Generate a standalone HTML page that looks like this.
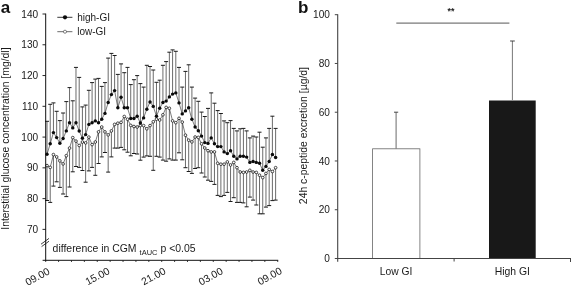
<!DOCTYPE html>
<html><head><meta charset="utf-8"><title>Figure</title>
<style>html,body{margin:0;padding:0;background:#fff}body{width:571px;height:289px;overflow:hidden}</style>
</head><body>
<svg width="571" height="289" viewBox="0 0 571 289" style="display:block;will-change:transform;font-family:'Liberation Sans',sans-serif">
<rect width="571" height="289" fill="#fff"/>
<text x="0.8" y="12.6" font-size="17"font-weight="bold" fill="#111">a</text>
<text transform="translate(8.6,138.6) rotate(-90)" text-anchor="middle" font-size="10.39"fill="#1a1a1a">Interstitial glucose concentration [mg/dl]</text>
<line x1="47.00" y1="154.3" x2="47.00" y2="121.3" stroke="#5a5a5a" stroke-width="0.9"/>
<line x1="45.00" y1="121.3" x2="49.00" y2="121.3" stroke="#1a1a1a" stroke-width="1.0"/>
<line x1="47.00" y1="165.6" x2="47.00" y2="200.5" stroke="#5a5a5a" stroke-width="0.9"/>
<line x1="45.00" y1="200.5" x2="49.00" y2="200.5" stroke="#1a1a1a" stroke-width="1.0"/>
<line x1="50.22" y1="143.8" x2="50.22" y2="104.3" stroke="#5a5a5a" stroke-width="0.9"/>
<line x1="48.22" y1="104.3" x2="52.22" y2="104.3" stroke="#1a1a1a" stroke-width="1.0"/>
<line x1="50.22" y1="167.4" x2="50.22" y2="202.4" stroke="#5a5a5a" stroke-width="0.9"/>
<line x1="48.22" y1="202.4" x2="52.22" y2="202.4" stroke="#1a1a1a" stroke-width="1.0"/>
<line x1="53.44" y1="132.6" x2="53.44" y2="102.9" stroke="#5a5a5a" stroke-width="0.9"/>
<line x1="51.44" y1="102.9" x2="55.44" y2="102.9" stroke="#1a1a1a" stroke-width="1.0"/>
<line x1="53.44" y1="154.6" x2="53.44" y2="186.1" stroke="#5a5a5a" stroke-width="0.9"/>
<line x1="51.44" y1="186.1" x2="55.44" y2="186.1" stroke="#1a1a1a" stroke-width="1.0"/>
<line x1="56.66" y1="137.6" x2="56.66" y2="111.3" stroke="#5a5a5a" stroke-width="0.9"/>
<line x1="54.66" y1="111.3" x2="58.66" y2="111.3" stroke="#1a1a1a" stroke-width="1.0"/>
<line x1="56.66" y1="156.9" x2="56.66" y2="181.8" stroke="#5a5a5a" stroke-width="0.9"/>
<line x1="54.66" y1="181.8" x2="58.66" y2="181.8" stroke="#1a1a1a" stroke-width="1.0"/>
<line x1="59.88" y1="143.2" x2="59.88" y2="120.6" stroke="#5a5a5a" stroke-width="0.9"/>
<line x1="57.88" y1="120.6" x2="61.88" y2="120.6" stroke="#1a1a1a" stroke-width="1.0"/>
<line x1="59.88" y1="160.9" x2="59.88" y2="187.4" stroke="#5a5a5a" stroke-width="0.9"/>
<line x1="57.88" y1="187.4" x2="61.88" y2="187.4" stroke="#1a1a1a" stroke-width="1.0"/>
<line x1="63.10" y1="138.5" x2="63.10" y2="113.0" stroke="#5a5a5a" stroke-width="0.9"/>
<line x1="61.10" y1="113.0" x2="65.10" y2="113.0" stroke="#1a1a1a" stroke-width="1.0"/>
<line x1="63.10" y1="163.9" x2="63.10" y2="194.0" stroke="#5a5a5a" stroke-width="0.9"/>
<line x1="61.10" y1="194.0" x2="65.10" y2="194.0" stroke="#1a1a1a" stroke-width="1.0"/>
<line x1="66.32" y1="130.9" x2="66.32" y2="101.6" stroke="#5a5a5a" stroke-width="0.9"/>
<line x1="64.32" y1="101.6" x2="68.32" y2="101.6" stroke="#1a1a1a" stroke-width="1.0"/>
<line x1="66.32" y1="155.7" x2="66.32" y2="196.6" stroke="#5a5a5a" stroke-width="0.9"/>
<line x1="64.32" y1="196.6" x2="68.32" y2="196.6" stroke="#1a1a1a" stroke-width="1.0"/>
<line x1="69.54" y1="122.7" x2="69.54" y2="87.6" stroke="#5a5a5a" stroke-width="0.9"/>
<line x1="67.54" y1="87.6" x2="71.54" y2="87.6" stroke="#1a1a1a" stroke-width="1.0"/>
<line x1="69.54" y1="148.1" x2="69.54" y2="187.0" stroke="#5a5a5a" stroke-width="0.9"/>
<line x1="67.54" y1="187.0" x2="71.54" y2="187.0" stroke="#1a1a1a" stroke-width="1.0"/>
<line x1="72.76" y1="127.9" x2="72.76" y2="100.8" stroke="#5a5a5a" stroke-width="0.9"/>
<line x1="70.76" y1="100.8" x2="74.76" y2="100.8" stroke="#1a1a1a" stroke-width="1.0"/>
<line x1="72.76" y1="137.6" x2="72.76" y2="171.8" stroke="#5a5a5a" stroke-width="0.9"/>
<line x1="70.76" y1="171.8" x2="74.76" y2="171.8" stroke="#1a1a1a" stroke-width="1.0"/>
<line x1="75.98" y1="122.7" x2="75.98" y2="67.4" stroke="#5a5a5a" stroke-width="0.9"/>
<line x1="73.98" y1="67.4" x2="77.98" y2="67.4" stroke="#1a1a1a" stroke-width="1.0"/>
<line x1="75.98" y1="141.1" x2="75.98" y2="166.5" stroke="#5a5a5a" stroke-width="0.9"/>
<line x1="73.98" y1="166.5" x2="77.98" y2="166.5" stroke="#1a1a1a" stroke-width="1.0"/>
<line x1="79.20" y1="131.0" x2="79.20" y2="77.4" stroke="#5a5a5a" stroke-width="0.9"/>
<line x1="77.20" y1="77.4" x2="81.20" y2="77.4" stroke="#1a1a1a" stroke-width="1.0"/>
<line x1="79.20" y1="145.5" x2="79.20" y2="167.4" stroke="#5a5a5a" stroke-width="0.9"/>
<line x1="77.20" y1="167.4" x2="81.20" y2="167.4" stroke="#1a1a1a" stroke-width="1.0"/>
<line x1="82.42" y1="138.2" x2="82.42" y2="106.9" stroke="#5a5a5a" stroke-width="0.9"/>
<line x1="80.42" y1="106.9" x2="84.42" y2="106.9" stroke="#1a1a1a" stroke-width="1.0"/>
<line x1="82.42" y1="142.0" x2="82.42" y2="170.5" stroke="#5a5a5a" stroke-width="0.9"/>
<line x1="80.42" y1="170.5" x2="84.42" y2="170.5" stroke="#1a1a1a" stroke-width="1.0"/>
<line x1="85.64" y1="134.6" x2="85.64" y2="105.1" stroke="#5a5a5a" stroke-width="0.9"/>
<line x1="83.64" y1="105.1" x2="87.64" y2="105.1" stroke="#1a1a1a" stroke-width="1.0"/>
<line x1="85.64" y1="142.9" x2="85.64" y2="182.2" stroke="#5a5a5a" stroke-width="0.9"/>
<line x1="83.64" y1="182.2" x2="87.64" y2="182.2" stroke="#1a1a1a" stroke-width="1.0"/>
<line x1="88.86" y1="124.4" x2="88.86" y2="90.3" stroke="#5a5a5a" stroke-width="0.9"/>
<line x1="86.86" y1="90.3" x2="90.86" y2="90.3" stroke="#1a1a1a" stroke-width="1.0"/>
<line x1="88.86" y1="137.1" x2="88.86" y2="170.9" stroke="#5a5a5a" stroke-width="0.9"/>
<line x1="86.86" y1="170.9" x2="90.86" y2="170.9" stroke="#1a1a1a" stroke-width="1.0"/>
<line x1="92.08" y1="122.7" x2="92.08" y2="82.6" stroke="#5a5a5a" stroke-width="0.9"/>
<line x1="90.08" y1="82.6" x2="94.08" y2="82.6" stroke="#1a1a1a" stroke-width="1.0"/>
<line x1="92.08" y1="144.6" x2="92.08" y2="167.4" stroke="#5a5a5a" stroke-width="0.9"/>
<line x1="90.08" y1="167.4" x2="94.08" y2="167.4" stroke="#1a1a1a" stroke-width="1.0"/>
<line x1="95.30" y1="120.9" x2="95.30" y2="79.1" stroke="#5a5a5a" stroke-width="0.9"/>
<line x1="93.30" y1="79.1" x2="97.30" y2="79.1" stroke="#1a1a1a" stroke-width="1.0"/>
<line x1="95.30" y1="142.0" x2="95.30" y2="175.3" stroke="#5a5a5a" stroke-width="0.9"/>
<line x1="93.30" y1="175.3" x2="97.30" y2="175.3" stroke="#1a1a1a" stroke-width="1.0"/>
<line x1="98.52" y1="122.7" x2="98.52" y2="78.4" stroke="#5a5a5a" stroke-width="0.9"/>
<line x1="96.52" y1="78.4" x2="100.52" y2="78.4" stroke="#1a1a1a" stroke-width="1.0"/>
<line x1="98.52" y1="131.9" x2="98.52" y2="163.5" stroke="#5a5a5a" stroke-width="0.9"/>
<line x1="96.52" y1="163.5" x2="100.52" y2="163.5" stroke="#1a1a1a" stroke-width="1.0"/>
<line x1="101.74" y1="119.2" x2="101.74" y2="86.4" stroke="#5a5a5a" stroke-width="0.9"/>
<line x1="99.74" y1="86.4" x2="103.74" y2="86.4" stroke="#1a1a1a" stroke-width="1.0"/>
<line x1="101.74" y1="127.0" x2="101.74" y2="156.9" stroke="#5a5a5a" stroke-width="0.9"/>
<line x1="99.74" y1="156.9" x2="103.74" y2="156.9" stroke="#1a1a1a" stroke-width="1.0"/>
<line x1="104.96" y1="113.4" x2="104.96" y2="82.6" stroke="#5a5a5a" stroke-width="0.9"/>
<line x1="102.96" y1="82.6" x2="106.96" y2="82.6" stroke="#1a1a1a" stroke-width="1.0"/>
<line x1="104.96" y1="131.9" x2="104.96" y2="152.5" stroke="#5a5a5a" stroke-width="0.9"/>
<line x1="102.96" y1="152.5" x2="106.96" y2="152.5" stroke="#1a1a1a" stroke-width="1.0"/>
<line x1="108.18" y1="102.5" x2="108.18" y2="58.1" stroke="#5a5a5a" stroke-width="0.9"/>
<line x1="106.18" y1="58.1" x2="110.18" y2="58.1" stroke="#1a1a1a" stroke-width="1.0"/>
<line x1="108.18" y1="134.9" x2="108.18" y2="172.1" stroke="#5a5a5a" stroke-width="0.9"/>
<line x1="106.18" y1="172.1" x2="110.18" y2="172.1" stroke="#1a1a1a" stroke-width="1.0"/>
<line x1="111.40" y1="94.6" x2="111.40" y2="53.4" stroke="#5a5a5a" stroke-width="0.9"/>
<line x1="109.40" y1="53.4" x2="113.40" y2="53.4" stroke="#1a1a1a" stroke-width="1.0"/>
<line x1="111.40" y1="130.9" x2="111.40" y2="156.9" stroke="#5a5a5a" stroke-width="0.9"/>
<line x1="109.40" y1="156.9" x2="113.40" y2="156.9" stroke="#1a1a1a" stroke-width="1.0"/>
<line x1="114.62" y1="90.6" x2="114.62" y2="55.5" stroke="#5a5a5a" stroke-width="0.9"/>
<line x1="112.62" y1="55.5" x2="116.62" y2="55.5" stroke="#1a1a1a" stroke-width="1.0"/>
<line x1="114.62" y1="124.4" x2="114.62" y2="148.1" stroke="#5a5a5a" stroke-width="0.9"/>
<line x1="112.62" y1="148.1" x2="116.62" y2="148.1" stroke="#1a1a1a" stroke-width="1.0"/>
<line x1="117.84" y1="107.8" x2="117.84" y2="74.4" stroke="#5a5a5a" stroke-width="0.9"/>
<line x1="115.84" y1="74.4" x2="119.84" y2="74.4" stroke="#1a1a1a" stroke-width="1.0"/>
<line x1="117.84" y1="123.2" x2="117.84" y2="148.1" stroke="#5a5a5a" stroke-width="0.9"/>
<line x1="115.84" y1="148.1" x2="119.84" y2="148.1" stroke="#1a1a1a" stroke-width="1.0"/>
<line x1="121.06" y1="97.3" x2="121.06" y2="63.9" stroke="#5a5a5a" stroke-width="0.9"/>
<line x1="119.06" y1="63.9" x2="123.06" y2="63.9" stroke="#1a1a1a" stroke-width="1.0"/>
<line x1="121.06" y1="122.3" x2="121.06" y2="147.4" stroke="#5a5a5a" stroke-width="0.9"/>
<line x1="119.06" y1="147.4" x2="123.06" y2="147.4" stroke="#1a1a1a" stroke-width="1.0"/>
<line x1="124.28" y1="107.8" x2="124.28" y2="72.7" stroke="#5a5a5a" stroke-width="0.9"/>
<line x1="122.28" y1="72.7" x2="126.28" y2="72.7" stroke="#1a1a1a" stroke-width="1.0"/>
<line x1="124.28" y1="116.5" x2="124.28" y2="149.8" stroke="#5a5a5a" stroke-width="0.9"/>
<line x1="122.28" y1="149.8" x2="126.28" y2="149.8" stroke="#1a1a1a" stroke-width="1.0"/>
<line x1="127.50" y1="107.8" x2="127.50" y2="67.4" stroke="#5a5a5a" stroke-width="0.9"/>
<line x1="125.50" y1="67.4" x2="129.50" y2="67.4" stroke="#1a1a1a" stroke-width="1.0"/>
<line x1="127.50" y1="119.2" x2="127.50" y2="152.2" stroke="#5a5a5a" stroke-width="0.9"/>
<line x1="125.50" y1="152.2" x2="129.50" y2="152.2" stroke="#1a1a1a" stroke-width="1.0"/>
<line x1="130.72" y1="118.5" x2="130.72" y2="84.6" stroke="#5a5a5a" stroke-width="0.9"/>
<line x1="128.72" y1="84.6" x2="132.72" y2="84.6" stroke="#1a1a1a" stroke-width="1.0"/>
<line x1="130.72" y1="125.4" x2="130.72" y2="155.8" stroke="#5a5a5a" stroke-width="0.9"/>
<line x1="128.72" y1="155.8" x2="132.72" y2="155.8" stroke="#1a1a1a" stroke-width="1.0"/>
<line x1="133.94" y1="118.5" x2="133.94" y2="79.7" stroke="#5a5a5a" stroke-width="0.9"/>
<line x1="131.94" y1="79.7" x2="135.94" y2="79.7" stroke="#1a1a1a" stroke-width="1.0"/>
<line x1="133.94" y1="126.5" x2="133.94" y2="153.5" stroke="#5a5a5a" stroke-width="0.9"/>
<line x1="131.94" y1="153.5" x2="135.94" y2="153.5" stroke="#1a1a1a" stroke-width="1.0"/>
<line x1="137.16" y1="116.3" x2="137.16" y2="75.6" stroke="#5a5a5a" stroke-width="0.9"/>
<line x1="135.16" y1="75.6" x2="139.16" y2="75.6" stroke="#1a1a1a" stroke-width="1.0"/>
<line x1="137.16" y1="127.0" x2="137.16" y2="154.0" stroke="#5a5a5a" stroke-width="0.9"/>
<line x1="135.16" y1="154.0" x2="139.16" y2="154.0" stroke="#1a1a1a" stroke-width="1.0"/>
<line x1="140.38" y1="123.0" x2="140.38" y2="83.6" stroke="#5a5a5a" stroke-width="0.9"/>
<line x1="138.38" y1="83.6" x2="142.38" y2="83.6" stroke="#1a1a1a" stroke-width="1.0"/>
<line x1="140.38" y1="125.5" x2="140.38" y2="160.2" stroke="#5a5a5a" stroke-width="0.9"/>
<line x1="138.38" y1="160.2" x2="142.38" y2="160.2" stroke="#1a1a1a" stroke-width="1.0"/>
<line x1="143.60" y1="117.9" x2="143.60" y2="87.1" stroke="#5a5a5a" stroke-width="0.9"/>
<line x1="141.60" y1="87.1" x2="145.60" y2="87.1" stroke="#1a1a1a" stroke-width="1.0"/>
<line x1="143.60" y1="125.6" x2="143.60" y2="157.1" stroke="#5a5a5a" stroke-width="0.9"/>
<line x1="141.60" y1="157.1" x2="145.60" y2="157.1" stroke="#1a1a1a" stroke-width="1.0"/>
<line x1="146.82" y1="109.2" x2="146.82" y2="65.3" stroke="#5a5a5a" stroke-width="0.9"/>
<line x1="144.82" y1="65.3" x2="148.82" y2="65.3" stroke="#1a1a1a" stroke-width="1.0"/>
<line x1="146.82" y1="128.8" x2="146.82" y2="155.9" stroke="#5a5a5a" stroke-width="0.9"/>
<line x1="144.82" y1="155.9" x2="148.82" y2="155.9" stroke="#1a1a1a" stroke-width="1.0"/>
<line x1="150.04" y1="102.0" x2="150.04" y2="66.5" stroke="#5a5a5a" stroke-width="0.9"/>
<line x1="148.04" y1="66.5" x2="152.04" y2="66.5" stroke="#1a1a1a" stroke-width="1.0"/>
<line x1="150.04" y1="125.6" x2="150.04" y2="156.3" stroke="#5a5a5a" stroke-width="0.9"/>
<line x1="148.04" y1="156.3" x2="152.04" y2="156.3" stroke="#1a1a1a" stroke-width="1.0"/>
<line x1="153.26" y1="106.4" x2="153.26" y2="70.0" stroke="#5a5a5a" stroke-width="0.9"/>
<line x1="151.26" y1="70.0" x2="155.26" y2="70.0" stroke="#1a1a1a" stroke-width="1.0"/>
<line x1="153.26" y1="121.8" x2="153.26" y2="170.3" stroke="#5a5a5a" stroke-width="0.9"/>
<line x1="151.26" y1="170.3" x2="155.26" y2="170.3" stroke="#1a1a1a" stroke-width="1.0"/>
<line x1="156.48" y1="116.2" x2="156.48" y2="82.3" stroke="#5a5a5a" stroke-width="0.9"/>
<line x1="154.48" y1="82.3" x2="158.48" y2="82.3" stroke="#1a1a1a" stroke-width="1.0"/>
<line x1="156.48" y1="119.2" x2="156.48" y2="156.3" stroke="#5a5a5a" stroke-width="0.9"/>
<line x1="154.48" y1="156.3" x2="158.48" y2="156.3" stroke="#1a1a1a" stroke-width="1.0"/>
<line x1="159.70" y1="108.3" x2="159.70" y2="80.2" stroke="#5a5a5a" stroke-width="0.9"/>
<line x1="157.70" y1="80.2" x2="161.70" y2="80.2" stroke="#1a1a1a" stroke-width="1.0"/>
<line x1="159.70" y1="120.0" x2="159.70" y2="157.1" stroke="#5a5a5a" stroke-width="0.9"/>
<line x1="157.70" y1="157.1" x2="161.70" y2="157.1" stroke="#1a1a1a" stroke-width="1.0"/>
<line x1="162.92" y1="102.5" x2="162.92" y2="65.3" stroke="#5a5a5a" stroke-width="0.9"/>
<line x1="160.92" y1="65.3" x2="164.92" y2="65.3" stroke="#1a1a1a" stroke-width="1.0"/>
<line x1="162.92" y1="114.8" x2="162.92" y2="160.1" stroke="#5a5a5a" stroke-width="0.9"/>
<line x1="160.92" y1="160.1" x2="164.92" y2="160.1" stroke="#1a1a1a" stroke-width="1.0"/>
<line x1="166.14" y1="101.1" x2="166.14" y2="61.6" stroke="#5a5a5a" stroke-width="0.9"/>
<line x1="164.14" y1="61.6" x2="168.14" y2="61.6" stroke="#1a1a1a" stroke-width="1.0"/>
<line x1="166.14" y1="107.4" x2="166.14" y2="161.2" stroke="#5a5a5a" stroke-width="0.9"/>
<line x1="164.14" y1="161.2" x2="168.14" y2="161.2" stroke="#1a1a1a" stroke-width="1.0"/>
<line x1="169.36" y1="96.9" x2="169.36" y2="52.2" stroke="#5a5a5a" stroke-width="0.9"/>
<line x1="167.36" y1="52.2" x2="171.36" y2="52.2" stroke="#1a1a1a" stroke-width="1.0"/>
<line x1="169.36" y1="108.3" x2="169.36" y2="158.9" stroke="#5a5a5a" stroke-width="0.9"/>
<line x1="167.36" y1="158.9" x2="171.36" y2="158.9" stroke="#1a1a1a" stroke-width="1.0"/>
<line x1="172.58" y1="94.1" x2="172.58" y2="49.9" stroke="#5a5a5a" stroke-width="0.9"/>
<line x1="170.58" y1="49.9" x2="174.58" y2="49.9" stroke="#1a1a1a" stroke-width="1.0"/>
<line x1="172.58" y1="120.9" x2="172.58" y2="160.1" stroke="#5a5a5a" stroke-width="0.9"/>
<line x1="170.58" y1="160.1" x2="174.58" y2="160.1" stroke="#1a1a1a" stroke-width="1.0"/>
<line x1="175.80" y1="92.9" x2="175.80" y2="51.3" stroke="#5a5a5a" stroke-width="0.9"/>
<line x1="173.80" y1="51.3" x2="177.80" y2="51.3" stroke="#1a1a1a" stroke-width="1.0"/>
<line x1="175.80" y1="122.7" x2="175.80" y2="160.1" stroke="#5a5a5a" stroke-width="0.9"/>
<line x1="173.80" y1="160.1" x2="177.80" y2="160.1" stroke="#1a1a1a" stroke-width="1.0"/>
<line x1="179.02" y1="102.9" x2="179.02" y2="67.4" stroke="#5a5a5a" stroke-width="0.9"/>
<line x1="177.02" y1="67.4" x2="181.02" y2="67.4" stroke="#1a1a1a" stroke-width="1.0"/>
<line x1="179.02" y1="118.3" x2="179.02" y2="152.8" stroke="#5a5a5a" stroke-width="0.9"/>
<line x1="177.02" y1="152.8" x2="181.02" y2="152.8" stroke="#1a1a1a" stroke-width="1.0"/>
<line x1="182.24" y1="113.9" x2="182.24" y2="87.1" stroke="#5a5a5a" stroke-width="0.9"/>
<line x1="180.24" y1="87.1" x2="184.24" y2="87.1" stroke="#1a1a1a" stroke-width="1.0"/>
<line x1="182.24" y1="122.1" x2="182.24" y2="159.8" stroke="#5a5a5a" stroke-width="0.9"/>
<line x1="180.24" y1="159.8" x2="184.24" y2="159.8" stroke="#1a1a1a" stroke-width="1.0"/>
<line x1="185.46" y1="110.9" x2="185.46" y2="71.4" stroke="#5a5a5a" stroke-width="0.9"/>
<line x1="183.46" y1="71.4" x2="187.46" y2="71.4" stroke="#1a1a1a" stroke-width="1.0"/>
<line x1="185.46" y1="135.2" x2="185.46" y2="167.7" stroke="#5a5a5a" stroke-width="0.9"/>
<line x1="183.46" y1="167.7" x2="187.46" y2="167.7" stroke="#1a1a1a" stroke-width="1.0"/>
<line x1="188.68" y1="107.8" x2="188.68" y2="64.8" stroke="#5a5a5a" stroke-width="0.9"/>
<line x1="186.68" y1="64.8" x2="190.68" y2="64.8" stroke="#1a1a1a" stroke-width="1.0"/>
<line x1="188.68" y1="140.2" x2="188.68" y2="171.5" stroke="#5a5a5a" stroke-width="0.9"/>
<line x1="186.68" y1="171.5" x2="190.68" y2="171.5" stroke="#1a1a1a" stroke-width="1.0"/>
<line x1="191.90" y1="119.2" x2="191.90" y2="87.1" stroke="#5a5a5a" stroke-width="0.9"/>
<line x1="189.90" y1="87.1" x2="193.90" y2="87.1" stroke="#1a1a1a" stroke-width="1.0"/>
<line x1="191.90" y1="141.9" x2="191.90" y2="173.4" stroke="#5a5a5a" stroke-width="0.9"/>
<line x1="189.90" y1="173.4" x2="193.90" y2="173.4" stroke="#1a1a1a" stroke-width="1.0"/>
<line x1="195.12" y1="127.0" x2="195.12" y2="98.1" stroke="#5a5a5a" stroke-width="0.9"/>
<line x1="193.12" y1="98.1" x2="197.12" y2="98.1" stroke="#1a1a1a" stroke-width="1.0"/>
<line x1="195.12" y1="137.0" x2="195.12" y2="168.5" stroke="#5a5a5a" stroke-width="0.9"/>
<line x1="193.12" y1="168.5" x2="197.12" y2="168.5" stroke="#1a1a1a" stroke-width="1.0"/>
<line x1="198.34" y1="130.7" x2="198.34" y2="101.3" stroke="#5a5a5a" stroke-width="0.9"/>
<line x1="196.34" y1="101.3" x2="200.34" y2="101.3" stroke="#1a1a1a" stroke-width="1.0"/>
<line x1="198.34" y1="137.4" x2="198.34" y2="167.7" stroke="#5a5a5a" stroke-width="0.9"/>
<line x1="196.34" y1="167.7" x2="200.34" y2="167.7" stroke="#1a1a1a" stroke-width="1.0"/>
<line x1="201.56" y1="136.1" x2="201.56" y2="112.1" stroke="#5a5a5a" stroke-width="0.9"/>
<line x1="199.56" y1="112.1" x2="203.56" y2="112.1" stroke="#1a1a1a" stroke-width="1.0"/>
<line x1="201.56" y1="143.8" x2="201.56" y2="173.0" stroke="#5a5a5a" stroke-width="0.9"/>
<line x1="199.56" y1="173.0" x2="203.56" y2="173.0" stroke="#1a1a1a" stroke-width="1.0"/>
<line x1="204.78" y1="142.6" x2="204.78" y2="116.5" stroke="#5a5a5a" stroke-width="0.9"/>
<line x1="202.78" y1="116.5" x2="206.78" y2="116.5" stroke="#1a1a1a" stroke-width="1.0"/>
<line x1="204.78" y1="148.0" x2="204.78" y2="177.0" stroke="#5a5a5a" stroke-width="0.9"/>
<line x1="202.78" y1="177.0" x2="206.78" y2="177.0" stroke="#1a1a1a" stroke-width="1.0"/>
<line x1="208.00" y1="143.4" x2="208.00" y2="108.4" stroke="#5a5a5a" stroke-width="0.9"/>
<line x1="206.00" y1="108.4" x2="210.00" y2="108.4" stroke="#1a1a1a" stroke-width="1.0"/>
<line x1="208.00" y1="150.7" x2="208.00" y2="180.2" stroke="#5a5a5a" stroke-width="0.9"/>
<line x1="206.00" y1="180.2" x2="210.00" y2="180.2" stroke="#1a1a1a" stroke-width="1.0"/>
<line x1="211.22" y1="137.9" x2="211.22" y2="92.9" stroke="#5a5a5a" stroke-width="0.9"/>
<line x1="209.22" y1="92.9" x2="213.22" y2="92.9" stroke="#1a1a1a" stroke-width="1.0"/>
<line x1="211.22" y1="151.9" x2="211.22" y2="181.4" stroke="#5a5a5a" stroke-width="0.9"/>
<line x1="209.22" y1="181.4" x2="213.22" y2="181.4" stroke="#1a1a1a" stroke-width="1.0"/>
<line x1="214.44" y1="143.7" x2="214.44" y2="103.2" stroke="#5a5a5a" stroke-width="0.9"/>
<line x1="212.44" y1="103.2" x2="216.44" y2="103.2" stroke="#1a1a1a" stroke-width="1.0"/>
<line x1="214.44" y1="151.9" x2="214.44" y2="184.4" stroke="#5a5a5a" stroke-width="0.9"/>
<line x1="212.44" y1="184.4" x2="216.44" y2="184.4" stroke="#1a1a1a" stroke-width="1.0"/>
<line x1="217.66" y1="146.6" x2="217.66" y2="110.6" stroke="#5a5a5a" stroke-width="0.9"/>
<line x1="215.66" y1="110.6" x2="219.66" y2="110.6" stroke="#1a1a1a" stroke-width="1.0"/>
<line x1="217.66" y1="163.3" x2="217.66" y2="195.4" stroke="#5a5a5a" stroke-width="0.9"/>
<line x1="215.66" y1="195.4" x2="219.66" y2="195.4" stroke="#1a1a1a" stroke-width="1.0"/>
<line x1="220.88" y1="146.6" x2="220.88" y2="113.5" stroke="#5a5a5a" stroke-width="0.9"/>
<line x1="218.88" y1="113.5" x2="222.88" y2="113.5" stroke="#1a1a1a" stroke-width="1.0"/>
<line x1="220.88" y1="164.2" x2="220.88" y2="196.6" stroke="#5a5a5a" stroke-width="0.9"/>
<line x1="218.88" y1="196.6" x2="222.88" y2="196.6" stroke="#1a1a1a" stroke-width="1.0"/>
<line x1="224.10" y1="151.9" x2="224.10" y2="120.9" stroke="#5a5a5a" stroke-width="0.9"/>
<line x1="222.10" y1="120.9" x2="226.10" y2="120.9" stroke="#1a1a1a" stroke-width="1.0"/>
<line x1="224.10" y1="164.2" x2="224.10" y2="195.4" stroke="#5a5a5a" stroke-width="0.9"/>
<line x1="222.10" y1="195.4" x2="226.10" y2="195.4" stroke="#1a1a1a" stroke-width="1.0"/>
<line x1="227.32" y1="153.6" x2="227.32" y2="122.7" stroke="#5a5a5a" stroke-width="0.9"/>
<line x1="225.32" y1="122.7" x2="229.32" y2="122.7" stroke="#1a1a1a" stroke-width="1.0"/>
<line x1="227.32" y1="161.9" x2="227.32" y2="192.4" stroke="#5a5a5a" stroke-width="0.9"/>
<line x1="225.32" y1="192.4" x2="229.32" y2="192.4" stroke="#1a1a1a" stroke-width="1.0"/>
<line x1="230.54" y1="150.7" x2="230.54" y2="120.6" stroke="#5a5a5a" stroke-width="0.9"/>
<line x1="228.54" y1="120.6" x2="232.54" y2="120.6" stroke="#1a1a1a" stroke-width="1.0"/>
<line x1="230.54" y1="165.0" x2="230.54" y2="201.5" stroke="#5a5a5a" stroke-width="0.9"/>
<line x1="228.54" y1="201.5" x2="232.54" y2="201.5" stroke="#1a1a1a" stroke-width="1.0"/>
<line x1="233.76" y1="156.3" x2="233.76" y2="128.4" stroke="#5a5a5a" stroke-width="0.9"/>
<line x1="231.76" y1="128.4" x2="235.76" y2="128.4" stroke="#1a1a1a" stroke-width="1.0"/>
<line x1="233.76" y1="162.4" x2="233.76" y2="197.7" stroke="#5a5a5a" stroke-width="0.9"/>
<line x1="231.76" y1="197.7" x2="235.76" y2="197.7" stroke="#1a1a1a" stroke-width="1.0"/>
<line x1="236.98" y1="158.9" x2="236.98" y2="130.9" stroke="#5a5a5a" stroke-width="0.9"/>
<line x1="234.98" y1="130.9" x2="238.98" y2="130.9" stroke="#1a1a1a" stroke-width="1.0"/>
<line x1="236.98" y1="167.7" x2="236.98" y2="202.4" stroke="#5a5a5a" stroke-width="0.9"/>
<line x1="234.98" y1="202.4" x2="238.98" y2="202.4" stroke="#1a1a1a" stroke-width="1.0"/>
<line x1="240.20" y1="156.3" x2="240.20" y2="128.8" stroke="#5a5a5a" stroke-width="0.9"/>
<line x1="238.20" y1="128.8" x2="242.20" y2="128.8" stroke="#1a1a1a" stroke-width="1.0"/>
<line x1="240.20" y1="172.0" x2="240.20" y2="202.4" stroke="#5a5a5a" stroke-width="0.9"/>
<line x1="238.20" y1="202.4" x2="242.20" y2="202.4" stroke="#1a1a1a" stroke-width="1.0"/>
<line x1="243.42" y1="156.3" x2="243.42" y2="128.4" stroke="#5a5a5a" stroke-width="0.9"/>
<line x1="241.42" y1="128.4" x2="245.42" y2="128.4" stroke="#1a1a1a" stroke-width="1.0"/>
<line x1="243.42" y1="172.4" x2="243.42" y2="202.9" stroke="#5a5a5a" stroke-width="0.9"/>
<line x1="241.42" y1="202.9" x2="245.42" y2="202.9" stroke="#1a1a1a" stroke-width="1.0"/>
<line x1="246.64" y1="157.1" x2="246.64" y2="130.9" stroke="#5a5a5a" stroke-width="0.9"/>
<line x1="244.64" y1="130.9" x2="248.64" y2="130.9" stroke="#1a1a1a" stroke-width="1.0"/>
<line x1="246.64" y1="172.0" x2="246.64" y2="206.8" stroke="#5a5a5a" stroke-width="0.9"/>
<line x1="244.64" y1="206.8" x2="248.64" y2="206.8" stroke="#1a1a1a" stroke-width="1.0"/>
<line x1="249.86" y1="162.4" x2="249.86" y2="137.9" stroke="#5a5a5a" stroke-width="0.9"/>
<line x1="247.86" y1="137.9" x2="251.86" y2="137.9" stroke="#1a1a1a" stroke-width="1.0"/>
<line x1="249.86" y1="170.3" x2="249.86" y2="197.1" stroke="#5a5a5a" stroke-width="0.9"/>
<line x1="247.86" y1="197.1" x2="251.86" y2="197.1" stroke="#1a1a1a" stroke-width="1.0"/>
<line x1="253.08" y1="161.5" x2="253.08" y2="136.1" stroke="#5a5a5a" stroke-width="0.9"/>
<line x1="251.08" y1="136.1" x2="255.08" y2="136.1" stroke="#1a1a1a" stroke-width="1.0"/>
<line x1="253.08" y1="172.0" x2="253.08" y2="200.1" stroke="#5a5a5a" stroke-width="0.9"/>
<line x1="251.08" y1="200.1" x2="255.08" y2="200.1" stroke="#1a1a1a" stroke-width="1.0"/>
<line x1="256.30" y1="162.4" x2="256.30" y2="137.0" stroke="#5a5a5a" stroke-width="0.9"/>
<line x1="254.30" y1="137.0" x2="258.30" y2="137.0" stroke="#1a1a1a" stroke-width="1.0"/>
<line x1="256.30" y1="172.4" x2="256.30" y2="205.0" stroke="#5a5a5a" stroke-width="0.9"/>
<line x1="254.30" y1="205.0" x2="258.30" y2="205.0" stroke="#1a1a1a" stroke-width="1.0"/>
<line x1="259.52" y1="163.3" x2="259.52" y2="132.2" stroke="#5a5a5a" stroke-width="0.9"/>
<line x1="257.52" y1="132.2" x2="261.52" y2="132.2" stroke="#1a1a1a" stroke-width="1.0"/>
<line x1="259.52" y1="175.2" x2="259.52" y2="213.8" stroke="#5a5a5a" stroke-width="0.9"/>
<line x1="257.52" y1="213.8" x2="261.52" y2="213.8" stroke="#1a1a1a" stroke-width="1.0"/>
<line x1="262.74" y1="170.3" x2="262.74" y2="147.2" stroke="#5a5a5a" stroke-width="0.9"/>
<line x1="260.74" y1="147.2" x2="264.74" y2="147.2" stroke="#1a1a1a" stroke-width="1.0"/>
<line x1="262.74" y1="177.6" x2="262.74" y2="213.8" stroke="#5a5a5a" stroke-width="0.9"/>
<line x1="260.74" y1="213.8" x2="264.74" y2="213.8" stroke="#1a1a1a" stroke-width="1.0"/>
<line x1="265.96" y1="166.4" x2="265.96" y2="137.9" stroke="#5a5a5a" stroke-width="0.9"/>
<line x1="263.96" y1="137.9" x2="267.96" y2="137.9" stroke="#1a1a1a" stroke-width="1.0"/>
<line x1="265.96" y1="173.4" x2="265.96" y2="207.1" stroke="#5a5a5a" stroke-width="0.9"/>
<line x1="263.96" y1="207.1" x2="267.96" y2="207.1" stroke="#1a1a1a" stroke-width="1.0"/>
<line x1="269.18" y1="161.5" x2="269.18" y2="128.4" stroke="#5a5a5a" stroke-width="0.9"/>
<line x1="267.18" y1="128.4" x2="271.18" y2="128.4" stroke="#1a1a1a" stroke-width="1.0"/>
<line x1="269.18" y1="169.4" x2="269.18" y2="205.6" stroke="#5a5a5a" stroke-width="0.9"/>
<line x1="267.18" y1="205.6" x2="271.18" y2="205.6" stroke="#1a1a1a" stroke-width="1.0"/>
<line x1="272.40" y1="154.5" x2="272.40" y2="116.2" stroke="#5a5a5a" stroke-width="0.9"/>
<line x1="270.40" y1="116.2" x2="274.40" y2="116.2" stroke="#1a1a1a" stroke-width="1.0"/>
<line x1="272.40" y1="171.5" x2="272.40" y2="200.6" stroke="#5a5a5a" stroke-width="0.9"/>
<line x1="270.40" y1="200.6" x2="274.40" y2="200.6" stroke="#1a1a1a" stroke-width="1.0"/>
<line x1="275.62" y1="157.5" x2="275.62" y2="128.4" stroke="#5a5a5a" stroke-width="0.9"/>
<line x1="273.62" y1="128.4" x2="277.62" y2="128.4" stroke="#1a1a1a" stroke-width="1.0"/>
<line x1="275.62" y1="167.7" x2="275.62" y2="200.1" stroke="#5a5a5a" stroke-width="0.9"/>
<line x1="273.62" y1="200.1" x2="277.62" y2="200.1" stroke="#1a1a1a" stroke-width="1.0"/>
<polyline points="47.00,154.3 50.22,143.8 53.44,132.6 56.66,137.6 59.88,143.2 63.10,138.5 66.32,130.9 69.54,122.7 72.76,127.9 75.98,122.7 79.20,131.0 82.42,138.2 85.64,134.6 88.86,124.4 92.08,122.7 95.30,120.9 98.52,122.7 101.74,119.2 104.96,113.4 108.18,102.5 111.40,94.6 114.62,90.6 117.84,107.8 121.06,97.3 124.28,107.8 127.50,107.8 130.72,118.5 133.94,118.5 137.16,116.3 140.38,123.0 143.60,117.9 146.82,109.2 150.04,102.0 153.26,106.4 156.48,116.2 159.70,108.3 162.92,102.5 166.14,101.1 169.36,96.9 172.58,94.1 175.80,92.9 179.02,102.9 182.24,113.9 185.46,110.9 188.68,107.8 191.90,119.2 195.12,127.0 198.34,130.7 201.56,136.1 204.78,142.6 208.00,143.4 211.22,137.9 214.44,143.7 217.66,146.6 220.88,146.6 224.10,151.9 227.32,153.6 230.54,150.7 233.76,156.3 236.98,158.9 240.20,156.3 243.42,156.3 246.64,157.1 249.86,162.4 253.08,161.5 256.30,162.4 259.52,163.3 262.74,170.3 265.96,166.4 269.18,161.5 272.40,154.5 275.62,157.5" fill="none" stroke="#222" stroke-width="0.6"/>
<polyline points="47.00,165.6 50.22,167.4 53.44,154.6 56.66,156.9 59.88,160.9 63.10,163.9 66.32,155.7 69.54,148.1 72.76,137.6 75.98,141.1 79.20,145.5 82.42,142.0 85.64,142.9 88.86,137.1 92.08,144.6 95.30,142.0 98.52,131.9 101.74,127.0 104.96,131.9 108.18,134.9 111.40,130.9 114.62,124.4 117.84,123.2 121.06,122.3 124.28,116.5 127.50,119.2 130.72,125.4 133.94,126.5 137.16,127.0 140.38,125.5 143.60,125.6 146.82,128.8 150.04,125.6 153.26,121.8 156.48,119.2 159.70,120.0 162.92,114.8 166.14,107.4 169.36,108.3 172.58,120.9 175.80,122.7 179.02,118.3 182.24,122.1 185.46,135.2 188.68,140.2 191.90,141.9 195.12,137.0 198.34,137.4 201.56,143.8 204.78,148.0 208.00,150.7 211.22,151.9 214.44,151.9 217.66,163.3 220.88,164.2 224.10,164.2 227.32,161.9 230.54,165.0 233.76,162.4 236.98,167.7 240.20,172.0 243.42,172.4 246.64,172.0 249.86,170.3 253.08,172.0 256.30,172.4 259.52,175.2 262.74,177.6 265.96,173.4 269.18,169.4 272.40,171.5 275.62,167.7" fill="none" stroke="#222" stroke-width="0.6"/>
<circle cx="47.00" cy="165.6" r="1.35" fill="#fff" stroke="#111" stroke-width="0.75"/>
<circle cx="50.22" cy="167.4" r="1.35" fill="#fff" stroke="#111" stroke-width="0.75"/>
<circle cx="53.44" cy="154.6" r="1.35" fill="#fff" stroke="#111" stroke-width="0.75"/>
<circle cx="56.66" cy="156.9" r="1.35" fill="#fff" stroke="#111" stroke-width="0.75"/>
<circle cx="59.88" cy="160.9" r="1.35" fill="#fff" stroke="#111" stroke-width="0.75"/>
<circle cx="63.10" cy="163.9" r="1.35" fill="#fff" stroke="#111" stroke-width="0.75"/>
<circle cx="66.32" cy="155.7" r="1.35" fill="#fff" stroke="#111" stroke-width="0.75"/>
<circle cx="69.54" cy="148.1" r="1.35" fill="#fff" stroke="#111" stroke-width="0.75"/>
<circle cx="72.76" cy="137.6" r="1.35" fill="#fff" stroke="#111" stroke-width="0.75"/>
<circle cx="75.98" cy="141.1" r="1.35" fill="#fff" stroke="#111" stroke-width="0.75"/>
<circle cx="79.20" cy="145.5" r="1.35" fill="#fff" stroke="#111" stroke-width="0.75"/>
<circle cx="82.42" cy="142.0" r="1.35" fill="#fff" stroke="#111" stroke-width="0.75"/>
<circle cx="85.64" cy="142.9" r="1.35" fill="#fff" stroke="#111" stroke-width="0.75"/>
<circle cx="88.86" cy="137.1" r="1.35" fill="#fff" stroke="#111" stroke-width="0.75"/>
<circle cx="92.08" cy="144.6" r="1.35" fill="#fff" stroke="#111" stroke-width="0.75"/>
<circle cx="95.30" cy="142.0" r="1.35" fill="#fff" stroke="#111" stroke-width="0.75"/>
<circle cx="98.52" cy="131.9" r="1.35" fill="#fff" stroke="#111" stroke-width="0.75"/>
<circle cx="101.74" cy="127.0" r="1.35" fill="#fff" stroke="#111" stroke-width="0.75"/>
<circle cx="104.96" cy="131.9" r="1.35" fill="#fff" stroke="#111" stroke-width="0.75"/>
<circle cx="108.18" cy="134.9" r="1.35" fill="#fff" stroke="#111" stroke-width="0.75"/>
<circle cx="111.40" cy="130.9" r="1.35" fill="#fff" stroke="#111" stroke-width="0.75"/>
<circle cx="114.62" cy="124.4" r="1.35" fill="#fff" stroke="#111" stroke-width="0.75"/>
<circle cx="117.84" cy="123.2" r="1.35" fill="#fff" stroke="#111" stroke-width="0.75"/>
<circle cx="121.06" cy="122.3" r="1.35" fill="#fff" stroke="#111" stroke-width="0.75"/>
<circle cx="124.28" cy="116.5" r="1.35" fill="#fff" stroke="#111" stroke-width="0.75"/>
<circle cx="127.50" cy="119.2" r="1.35" fill="#fff" stroke="#111" stroke-width="0.75"/>
<circle cx="130.72" cy="125.4" r="1.35" fill="#fff" stroke="#111" stroke-width="0.75"/>
<circle cx="133.94" cy="126.5" r="1.35" fill="#fff" stroke="#111" stroke-width="0.75"/>
<circle cx="137.16" cy="127.0" r="1.35" fill="#fff" stroke="#111" stroke-width="0.75"/>
<circle cx="140.38" cy="125.5" r="1.35" fill="#fff" stroke="#111" stroke-width="0.75"/>
<circle cx="143.60" cy="125.6" r="1.35" fill="#fff" stroke="#111" stroke-width="0.75"/>
<circle cx="146.82" cy="128.8" r="1.35" fill="#fff" stroke="#111" stroke-width="0.75"/>
<circle cx="150.04" cy="125.6" r="1.35" fill="#fff" stroke="#111" stroke-width="0.75"/>
<circle cx="153.26" cy="121.8" r="1.35" fill="#fff" stroke="#111" stroke-width="0.75"/>
<circle cx="156.48" cy="119.2" r="1.35" fill="#fff" stroke="#111" stroke-width="0.75"/>
<circle cx="159.70" cy="120.0" r="1.35" fill="#fff" stroke="#111" stroke-width="0.75"/>
<circle cx="162.92" cy="114.8" r="1.35" fill="#fff" stroke="#111" stroke-width="0.75"/>
<circle cx="166.14" cy="107.4" r="1.35" fill="#fff" stroke="#111" stroke-width="0.75"/>
<circle cx="169.36" cy="108.3" r="1.35" fill="#fff" stroke="#111" stroke-width="0.75"/>
<circle cx="172.58" cy="120.9" r="1.35" fill="#fff" stroke="#111" stroke-width="0.75"/>
<circle cx="175.80" cy="122.7" r="1.35" fill="#fff" stroke="#111" stroke-width="0.75"/>
<circle cx="179.02" cy="118.3" r="1.35" fill="#fff" stroke="#111" stroke-width="0.75"/>
<circle cx="182.24" cy="122.1" r="1.35" fill="#fff" stroke="#111" stroke-width="0.75"/>
<circle cx="185.46" cy="135.2" r="1.35" fill="#fff" stroke="#111" stroke-width="0.75"/>
<circle cx="188.68" cy="140.2" r="1.35" fill="#fff" stroke="#111" stroke-width="0.75"/>
<circle cx="191.90" cy="141.9" r="1.35" fill="#fff" stroke="#111" stroke-width="0.75"/>
<circle cx="195.12" cy="137.0" r="1.35" fill="#fff" stroke="#111" stroke-width="0.75"/>
<circle cx="198.34" cy="137.4" r="1.35" fill="#fff" stroke="#111" stroke-width="0.75"/>
<circle cx="201.56" cy="143.8" r="1.35" fill="#fff" stroke="#111" stroke-width="0.75"/>
<circle cx="204.78" cy="148.0" r="1.35" fill="#fff" stroke="#111" stroke-width="0.75"/>
<circle cx="208.00" cy="150.7" r="1.35" fill="#fff" stroke="#111" stroke-width="0.75"/>
<circle cx="211.22" cy="151.9" r="1.35" fill="#fff" stroke="#111" stroke-width="0.75"/>
<circle cx="214.44" cy="151.9" r="1.35" fill="#fff" stroke="#111" stroke-width="0.75"/>
<circle cx="217.66" cy="163.3" r="1.35" fill="#fff" stroke="#111" stroke-width="0.75"/>
<circle cx="220.88" cy="164.2" r="1.35" fill="#fff" stroke="#111" stroke-width="0.75"/>
<circle cx="224.10" cy="164.2" r="1.35" fill="#fff" stroke="#111" stroke-width="0.75"/>
<circle cx="227.32" cy="161.9" r="1.35" fill="#fff" stroke="#111" stroke-width="0.75"/>
<circle cx="230.54" cy="165.0" r="1.35" fill="#fff" stroke="#111" stroke-width="0.75"/>
<circle cx="233.76" cy="162.4" r="1.35" fill="#fff" stroke="#111" stroke-width="0.75"/>
<circle cx="236.98" cy="167.7" r="1.35" fill="#fff" stroke="#111" stroke-width="0.75"/>
<circle cx="240.20" cy="172.0" r="1.35" fill="#fff" stroke="#111" stroke-width="0.75"/>
<circle cx="243.42" cy="172.4" r="1.35" fill="#fff" stroke="#111" stroke-width="0.75"/>
<circle cx="246.64" cy="172.0" r="1.35" fill="#fff" stroke="#111" stroke-width="0.75"/>
<circle cx="249.86" cy="170.3" r="1.35" fill="#fff" stroke="#111" stroke-width="0.75"/>
<circle cx="253.08" cy="172.0" r="1.35" fill="#fff" stroke="#111" stroke-width="0.75"/>
<circle cx="256.30" cy="172.4" r="1.35" fill="#fff" stroke="#111" stroke-width="0.75"/>
<circle cx="259.52" cy="175.2" r="1.35" fill="#fff" stroke="#111" stroke-width="0.75"/>
<circle cx="262.74" cy="177.6" r="1.35" fill="#fff" stroke="#111" stroke-width="0.75"/>
<circle cx="265.96" cy="173.4" r="1.35" fill="#fff" stroke="#111" stroke-width="0.75"/>
<circle cx="269.18" cy="169.4" r="1.35" fill="#fff" stroke="#111" stroke-width="0.75"/>
<circle cx="272.40" cy="171.5" r="1.35" fill="#fff" stroke="#111" stroke-width="0.75"/>
<circle cx="275.62" cy="167.7" r="1.35" fill="#fff" stroke="#111" stroke-width="0.75"/>
<circle cx="47.00" cy="154.3" r="1.72" fill="#0a0a0a"/>
<circle cx="50.22" cy="143.8" r="1.72" fill="#0a0a0a"/>
<circle cx="53.44" cy="132.6" r="1.72" fill="#0a0a0a"/>
<circle cx="56.66" cy="137.6" r="1.72" fill="#0a0a0a"/>
<circle cx="59.88" cy="143.2" r="1.72" fill="#0a0a0a"/>
<circle cx="63.10" cy="138.5" r="1.72" fill="#0a0a0a"/>
<circle cx="66.32" cy="130.9" r="1.72" fill="#0a0a0a"/>
<circle cx="69.54" cy="122.7" r="1.72" fill="#0a0a0a"/>
<circle cx="72.76" cy="127.9" r="1.72" fill="#0a0a0a"/>
<circle cx="75.98" cy="122.7" r="1.72" fill="#0a0a0a"/>
<circle cx="79.20" cy="131.0" r="1.72" fill="#0a0a0a"/>
<circle cx="82.42" cy="138.2" r="1.72" fill="#0a0a0a"/>
<circle cx="85.64" cy="134.6" r="1.72" fill="#0a0a0a"/>
<circle cx="88.86" cy="124.4" r="1.72" fill="#0a0a0a"/>
<circle cx="92.08" cy="122.7" r="1.72" fill="#0a0a0a"/>
<circle cx="95.30" cy="120.9" r="1.72" fill="#0a0a0a"/>
<circle cx="98.52" cy="122.7" r="1.72" fill="#0a0a0a"/>
<circle cx="101.74" cy="119.2" r="1.72" fill="#0a0a0a"/>
<circle cx="104.96" cy="113.4" r="1.72" fill="#0a0a0a"/>
<circle cx="108.18" cy="102.5" r="1.72" fill="#0a0a0a"/>
<circle cx="111.40" cy="94.6" r="1.72" fill="#0a0a0a"/>
<circle cx="114.62" cy="90.6" r="1.72" fill="#0a0a0a"/>
<circle cx="117.84" cy="107.8" r="1.72" fill="#0a0a0a"/>
<circle cx="121.06" cy="97.3" r="1.72" fill="#0a0a0a"/>
<circle cx="124.28" cy="107.8" r="1.72" fill="#0a0a0a"/>
<circle cx="127.50" cy="107.8" r="1.72" fill="#0a0a0a"/>
<circle cx="130.72" cy="118.5" r="1.72" fill="#0a0a0a"/>
<circle cx="133.94" cy="118.5" r="1.72" fill="#0a0a0a"/>
<circle cx="137.16" cy="116.3" r="1.72" fill="#0a0a0a"/>
<circle cx="140.38" cy="123.0" r="1.72" fill="#0a0a0a"/>
<circle cx="143.60" cy="117.9" r="1.72" fill="#0a0a0a"/>
<circle cx="146.82" cy="109.2" r="1.72" fill="#0a0a0a"/>
<circle cx="150.04" cy="102.0" r="1.72" fill="#0a0a0a"/>
<circle cx="153.26" cy="106.4" r="1.72" fill="#0a0a0a"/>
<circle cx="156.48" cy="116.2" r="1.72" fill="#0a0a0a"/>
<circle cx="159.70" cy="108.3" r="1.72" fill="#0a0a0a"/>
<circle cx="162.92" cy="102.5" r="1.72" fill="#0a0a0a"/>
<circle cx="166.14" cy="101.1" r="1.72" fill="#0a0a0a"/>
<circle cx="169.36" cy="96.9" r="1.72" fill="#0a0a0a"/>
<circle cx="172.58" cy="94.1" r="1.72" fill="#0a0a0a"/>
<circle cx="175.80" cy="92.9" r="1.72" fill="#0a0a0a"/>
<circle cx="179.02" cy="102.9" r="1.72" fill="#0a0a0a"/>
<circle cx="182.24" cy="113.9" r="1.72" fill="#0a0a0a"/>
<circle cx="185.46" cy="110.9" r="1.72" fill="#0a0a0a"/>
<circle cx="188.68" cy="107.8" r="1.72" fill="#0a0a0a"/>
<circle cx="191.90" cy="119.2" r="1.72" fill="#0a0a0a"/>
<circle cx="195.12" cy="127.0" r="1.72" fill="#0a0a0a"/>
<circle cx="198.34" cy="130.7" r="1.72" fill="#0a0a0a"/>
<circle cx="201.56" cy="136.1" r="1.72" fill="#0a0a0a"/>
<circle cx="204.78" cy="142.6" r="1.72" fill="#0a0a0a"/>
<circle cx="208.00" cy="143.4" r="1.72" fill="#0a0a0a"/>
<circle cx="211.22" cy="137.9" r="1.72" fill="#0a0a0a"/>
<circle cx="214.44" cy="143.7" r="1.72" fill="#0a0a0a"/>
<circle cx="217.66" cy="146.6" r="1.72" fill="#0a0a0a"/>
<circle cx="220.88" cy="146.6" r="1.72" fill="#0a0a0a"/>
<circle cx="224.10" cy="151.9" r="1.72" fill="#0a0a0a"/>
<circle cx="227.32" cy="153.6" r="1.72" fill="#0a0a0a"/>
<circle cx="230.54" cy="150.7" r="1.72" fill="#0a0a0a"/>
<circle cx="233.76" cy="156.3" r="1.72" fill="#0a0a0a"/>
<circle cx="236.98" cy="158.9" r="1.72" fill="#0a0a0a"/>
<circle cx="240.20" cy="156.3" r="1.72" fill="#0a0a0a"/>
<circle cx="243.42" cy="156.3" r="1.72" fill="#0a0a0a"/>
<circle cx="246.64" cy="157.1" r="1.72" fill="#0a0a0a"/>
<circle cx="249.86" cy="162.4" r="1.72" fill="#0a0a0a"/>
<circle cx="253.08" cy="161.5" r="1.72" fill="#0a0a0a"/>
<circle cx="256.30" cy="162.4" r="1.72" fill="#0a0a0a"/>
<circle cx="259.52" cy="163.3" r="1.72" fill="#0a0a0a"/>
<circle cx="262.74" cy="170.3" r="1.72" fill="#0a0a0a"/>
<circle cx="265.96" cy="166.4" r="1.72" fill="#0a0a0a"/>
<circle cx="269.18" cy="161.5" r="1.72" fill="#0a0a0a"/>
<circle cx="272.40" cy="154.5" r="1.72" fill="#0a0a0a"/>
<circle cx="275.62" cy="157.5" r="1.72" fill="#0a0a0a"/>
<line x1="45.7" y1="13.6" x2="45.7" y2="260.8" stroke="#111" stroke-width="1"/>
<line x1="42.6" y1="260.3" x2="278.2" y2="260.3" stroke="#111" stroke-width="1"/>
<line x1="42.5" y1="14.00" x2="45.7" y2="14.00" stroke="#111" stroke-width="0.9"/>
<text x="38.2" y="17.50" text-anchor="end" font-size="10.1" fill="#1a1a1a">140</text>
<line x1="42.5" y1="44.77" x2="45.7" y2="44.77" stroke="#111" stroke-width="0.9"/>
<text x="38.2" y="48.27" text-anchor="end" font-size="10.1" fill="#1a1a1a">130</text>
<line x1="42.5" y1="75.54" x2="45.7" y2="75.54" stroke="#111" stroke-width="0.9"/>
<text x="38.2" y="79.04" text-anchor="end" font-size="10.1" fill="#1a1a1a">120</text>
<line x1="42.5" y1="106.31" x2="45.7" y2="106.31" stroke="#111" stroke-width="0.9"/>
<text x="38.2" y="109.81" text-anchor="end" font-size="10.1" fill="#1a1a1a">110</text>
<line x1="42.5" y1="137.08" x2="45.7" y2="137.08" stroke="#111" stroke-width="0.9"/>
<text x="38.2" y="140.58" text-anchor="end" font-size="10.1" fill="#1a1a1a">100</text>
<line x1="42.5" y1="167.85" x2="45.7" y2="167.85" stroke="#111" stroke-width="0.9"/>
<text x="38.2" y="171.35" text-anchor="end" font-size="10.1" fill="#1a1a1a">90</text>
<line x1="42.5" y1="198.62" x2="45.7" y2="198.62" stroke="#111" stroke-width="0.9"/>
<text x="38.2" y="202.12" text-anchor="end" font-size="10.1" fill="#1a1a1a">80</text>
<line x1="42.5" y1="229.39" x2="45.7" y2="229.39" stroke="#111" stroke-width="0.9"/>
<text x="38.2" y="232.89" text-anchor="end" font-size="10.1" fill="#1a1a1a">70</text>
<line x1="41" y1="244.2" x2="49" y2="238.4" stroke="#111" stroke-width="0.8"/>
<line x1="41.6" y1="246.6" x2="49" y2="241.2" stroke="#111" stroke-width="0.8"/>
<line x1="45.70" y1="260.3" x2="45.70" y2="262" stroke="#111" stroke-width="0.8"/>
<line x1="58.59" y1="260.3" x2="58.59" y2="262" stroke="#111" stroke-width="0.8"/>
<line x1="71.48" y1="260.3" x2="71.48" y2="262" stroke="#111" stroke-width="0.8"/>
<line x1="84.37" y1="260.3" x2="84.37" y2="262" stroke="#111" stroke-width="0.8"/>
<line x1="97.26" y1="260.3" x2="97.26" y2="262" stroke="#111" stroke-width="0.8"/>
<line x1="110.15" y1="260.3" x2="110.15" y2="262" stroke="#111" stroke-width="0.8"/>
<line x1="123.04" y1="260.3" x2="123.04" y2="262" stroke="#111" stroke-width="0.8"/>
<line x1="135.93" y1="260.3" x2="135.93" y2="262" stroke="#111" stroke-width="0.8"/>
<line x1="148.82" y1="260.3" x2="148.82" y2="262" stroke="#111" stroke-width="0.8"/>
<line x1="161.71" y1="260.3" x2="161.71" y2="262" stroke="#111" stroke-width="0.8"/>
<line x1="174.60" y1="260.3" x2="174.60" y2="262" stroke="#111" stroke-width="0.8"/>
<line x1="187.49" y1="260.3" x2="187.49" y2="262" stroke="#111" stroke-width="0.8"/>
<line x1="200.38" y1="260.3" x2="200.38" y2="262" stroke="#111" stroke-width="0.8"/>
<line x1="213.27" y1="260.3" x2="213.27" y2="262" stroke="#111" stroke-width="0.8"/>
<line x1="226.16" y1="260.3" x2="226.16" y2="262" stroke="#111" stroke-width="0.8"/>
<line x1="239.05" y1="260.3" x2="239.05" y2="262" stroke="#111" stroke-width="0.8"/>
<line x1="251.94" y1="260.3" x2="251.94" y2="262" stroke="#111" stroke-width="0.8"/>
<line x1="264.83" y1="260.3" x2="264.83" y2="262" stroke="#111" stroke-width="0.8"/>
<line x1="277.72" y1="260.3" x2="277.72" y2="262" stroke="#111" stroke-width="0.8"/>
<text transform="translate(27.7,286) rotate(-28.5)" font-size="10.4" fill="#1a1a1a">09.00</text>
<text transform="translate(87.7,285.6) rotate(-28.5)" font-size="10.4" fill="#1a1a1a">15.00</text>
<text transform="translate(143.7,285.6) rotate(-28.5)" font-size="10.4" fill="#1a1a1a">21.00</text>
<text transform="translate(200.9,285.7) rotate(-28.5)" font-size="10.4" fill="#1a1a1a">03.00</text>
<text transform="translate(259.9,285.5) rotate(-28.5)" font-size="10.4" fill="#1a1a1a">09.00</text>
<line x1="57.3" y1="17.3" x2="72.4" y2="17.3" stroke="#222" stroke-width="0.9"/>
<circle cx="65" cy="17.3" r="2.1" fill="#0a0a0a"/>
<text x="77.2" y="20.8" font-size="10" fill="#1a1a1a">high-GI</text>
<line x1="57.3" y1="31.7" x2="72.4" y2="31.7" stroke="#444" stroke-width="0.8"/>
<circle cx="65" cy="31.7" r="1.55" fill="#fff" stroke="#333" stroke-width="0.6"/>
<text x="77.2" y="34.8" font-size="10" fill="#1a1a1a">low-GI</text>
<text x="52.6" y="251.9" font-size="10.45" fill="#1a1a1a">difference in CGM</text>
<text x="139.6" y="255" font-size="6.8" textLength="17.8" lengthAdjust="spacingAndGlyphs" fill="#1a1a1a">tAUC</text>
<text x="160.4" y="251.9" font-size="10.45" fill="#1a1a1a">p</text>
<text x="169.2" y="251.9" font-size="10.45" fill="#1a1a1a">&lt;0.05</text>
<text x="298.0" y="12.6" font-size="17" font-weight="bold" fill="#111">b</text>
<text transform="translate(306.5,135.6) rotate(-90)" text-anchor="middle" font-size="10.4" fill="#1a1a1a">24h c-peptide excretion [µg/d]</text>
<line x1="396.1" y1="112.2" x2="396.1" y2="148.8" stroke="#777" stroke-width="1.1"/>
<line x1="394" y1="112.2" x2="398.2" y2="112.2" stroke="#333" stroke-width="0.9"/>
<line x1="512.4" y1="41.0" x2="512.4" y2="100.0" stroke="#555" stroke-width="0.8"/>
<line x1="510.1" y1="41.0" x2="514.8" y2="41.0" stroke="#333" stroke-width="0.9"/>
<rect x="372.6" y="148.8" width="47.3" height="109.7" fill="#fff" stroke="#666" stroke-width="0.8"/>
<rect x="489" y="100.5" width="46.7" height="158.0" fill="#181818"/>
<line x1="337.7" y1="14.299999999999999" x2="337.7" y2="261.8" stroke="#444" stroke-width="1.1"/>
<line x1="334.8" y1="258.5" x2="571" y2="258.5" stroke="#444" stroke-width="1.2"/>
<line x1="334.8" y1="14.70" x2="337.7" y2="14.70" stroke="#444" stroke-width="1"/>
<line x1="334.8" y1="63.46" x2="337.7" y2="63.46" stroke="#444" stroke-width="1"/>
<line x1="334.8" y1="112.22" x2="337.7" y2="112.22" stroke="#444" stroke-width="1"/>
<line x1="334.8" y1="160.98" x2="337.7" y2="160.98" stroke="#444" stroke-width="1"/>
<line x1="334.8" y1="209.74" x2="337.7" y2="209.74" stroke="#444" stroke-width="1"/>
<text x="329.9" y="18.25" text-anchor="end" font-size="10.1" fill="#1a1a1a">100</text>
<text x="329.9" y="67.01" text-anchor="end" font-size="10.1" fill="#1a1a1a">80</text>
<text x="329.9" y="115.77" text-anchor="end" font-size="10.1" fill="#1a1a1a">60</text>
<text x="329.9" y="164.53" text-anchor="end" font-size="10.1" fill="#1a1a1a">40</text>
<text x="329.9" y="213.29" text-anchor="end" font-size="10.1" fill="#1a1a1a">20</text>
<text x="329.9" y="262.05" text-anchor="end" font-size="10.1" fill="#1a1a1a">0</text>
<line x1="454.1" y1="258.5" x2="454.1" y2="261.5" stroke="#444" stroke-width="1"/>
<line x1="570.5" y1="258.5" x2="570.5" y2="262" stroke="#444" stroke-width="1"/>
<text x="396" y="275.4" text-anchor="middle" font-size="10.3" fill="#1a1a1a">Low GI</text>
<text x="512.4" y="275.4" text-anchor="middle" font-size="10.4" fill="#1a1a1a">High GI</text>
<line x1="396.3" y1="23.1" x2="509.4" y2="23.1" stroke="#444" stroke-width="0.9"/>
<text x="450.9" y="13.6" text-anchor="middle" font-size="8.8" font-weight="bold" fill="#1a1a1a">**</text>
</svg>
</body></html>
